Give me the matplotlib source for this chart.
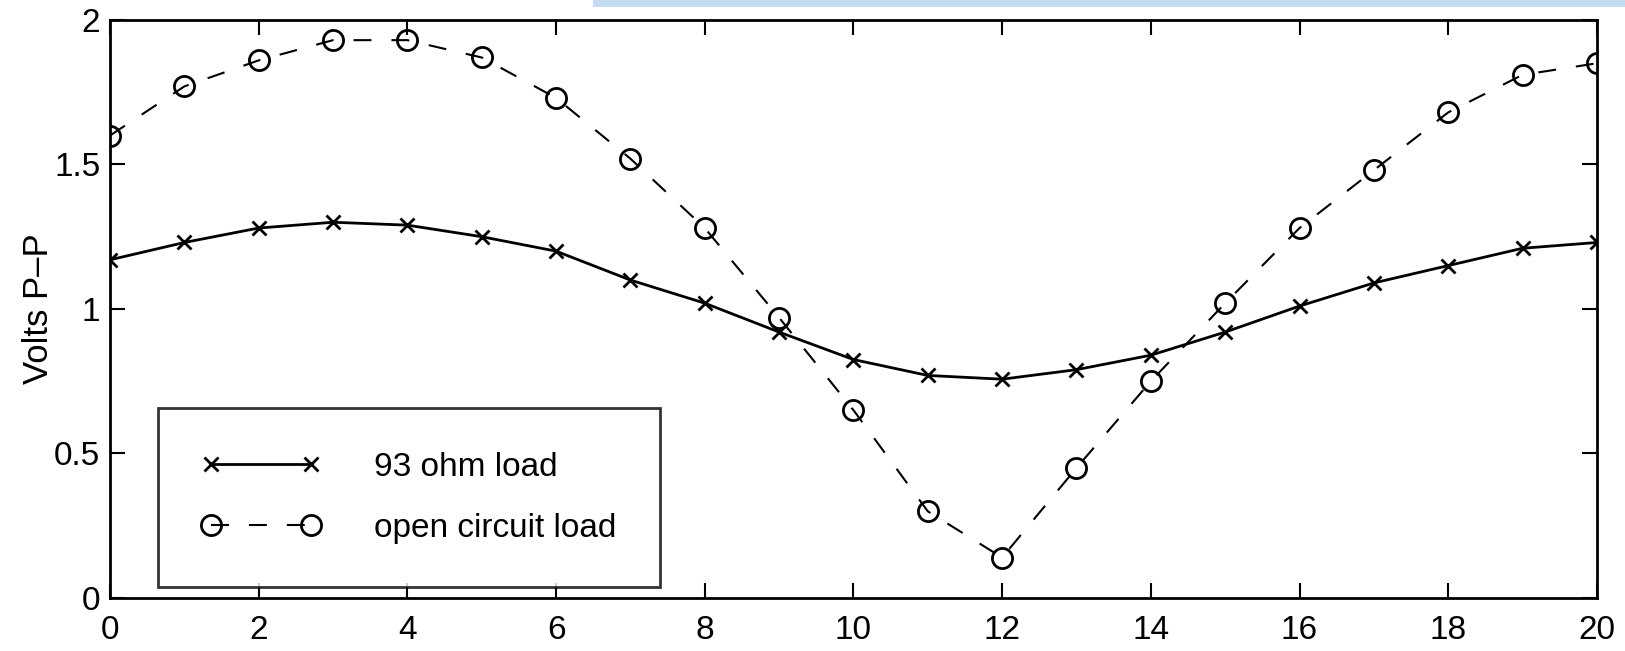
import matplotlib
matplotlib.use('Agg')
import matplotlib.pyplot as plt
from matplotlib.patches import Rectangle

# measured peak-to-peak voltage along the line
position = list(range(0, 21))
volts_93ohm = [1.17, 1.23, 1.28, 1.30, 1.29, 1.25, 1.20, 1.10, 1.02, 0.92, 0.825,
               0.77, 0.757, 0.79, 0.84, 0.92, 1.01, 1.09, 1.15, 1.21, 1.23]
volts_open = [1.60, 1.77, 1.86, 1.93, 1.93, 1.87, 1.73, 1.52, 1.28, 0.97, 0.65,
              0.30, 0.14, 0.45, 0.75, 1.02, 1.28, 1.48, 1.68, 1.81, 1.85]
labels = ['93 ohm load', 'open circuit load']

plt.rcParams['font.family'] = ['Liberation Sans', 'DejaVu Sans']

fig = plt.figure(figsize=(16.25, 6.51), dpi=100)
ax = fig.add_axes([0.0677, 0.0814, 0.915, 0.888])

ax.plot(position, volts_93ohm, color='black', linestyle='-', linewidth=2,
        marker='x', markersize=9.5, markeredgewidth=2, label=labels[0])
ax.plot(position, volts_open, color='black', linestyle=(0, (8.6, 9.6)), linewidth=1.5,
        marker='o', markersize=14.5, markerfacecolor='none', markeredgewidth=2,
        label=labels[1])

ax.set_xlim(0, 20)
ax.set_ylim(0, 2)
ax.set_xticks(range(0, 21, 2))
ax.set_yticks([0, 0.5, 1, 1.5, 2])
ax.set_yticklabels(['0', '0.5', '1', '1.5', '2'])
ax.tick_params(direction='in', length=11, width=1.5, top=True, right=True,
               labelsize=24)
ax.tick_params(axis='x', pad=12)
ax.tick_params(axis='y', pad=7)
for s in ax.spines.values():
    s.set_linewidth(2)
ax.set_ylabel('Volts P–P', fontsize=25)
ax.yaxis.set_label_coords(-0.037, 0.5)

leg = ax.legend(loc='lower left', bbox_to_anchor=(0.032, 0.019), fontsize=24,
                numpoints=2, frameon=True, fancybox=False, edgecolor='black',
                borderpad=1.3, labelspacing=0.9, handlelength=3.6,
                handletextpad=1.6, borderaxespad=0)
leg.get_frame().set_linewidth(2)

# light blue strip along the upper edge of the page
fig.patches.append(Rectangle((0.365, 0.989), 0.635, 0.011, transform=fig.transFigure,
                             facecolor='#c3dcf4', edgecolor='none'))

fig.savefig('out.png', dpi=100)
